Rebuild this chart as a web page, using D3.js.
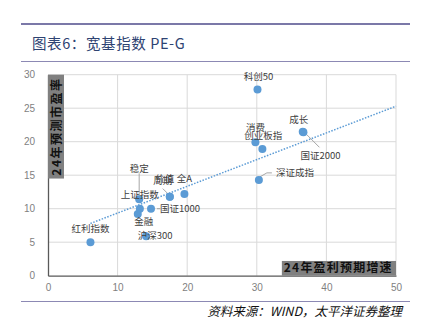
<!DOCTYPE html>
<html>
<head>
<meta charset="utf-8">
<script src="https://cdn.jsdelivr.net/npm/d3@7"></script>
<style>
  html, body { margin: 0; padding: 0; background: #fff; }
  svg { display: block; }
</style>
</head>
<body>
<svg id="chart" width="424" height="324"></svg>
<script>
// Broad-market indices: 2024 expected earnings growth (x) vs 2024 forecast P/E (y)
const names   = ["红利指数", "沪深300", "金融", "上证指数", "稳定", "国证1000", "周期", "价值", "全A",
                 "科创50", "消费", "创业板指", "成长", "国证2000", "深证成指"];
const growth  = [6.1, 14.1, 12.9, 13.2, 13.1, 14.8, 17.5, 17.5, 19.6, 30.1, 29.8, 30.8, 36.6, 36.7, 30.3];
const pe      = [5.0, 5.9, 9.2, 10.0, 11.4, 10.0, 11.8, 11.8, 12.2, 27.8, 19.9, 18.9, 21.5, 21.4, 14.3];

// Linear trend line, drawn between its two end points
const trendX = [6.1, 50];
const trendY = [7.8, 25.3];

const xTicks = [0, 10, 20, 30, 40, 50];
const yTicks = [0, 5, 10, 15, 20, 25, 30];

// Label placement relative to each point (px), and optional leader lines
const labelPos = [
  [0, -14], [9, 0], [6, 8], [0, -14], [0, -31], [29, 0], [-7, -16], [-5, -18], [0, -15],
  [1, -13], [0, -15], [1, -13], [-4, -12], [17, 23], [36, -7]
];
const leaders = {
  "稳定":     [[0, -3], [0, -26]],
  "周期":     [[-1, -2], [-7, -8]],
  "国证1000": [[6, 0], [9, 0]],
  "国证2000": [[3, 2], [16, 15]],
  "深证成指": [[1, -3], [8, -7], [13, -7]]
};

const svg = d3.select("#chart");
const FONT = "'Noto Sans CJK SC', 'Noto Sans', sans-serif";

// Header rules and title
svg.append("line").attr("x1", 21).attr("x2", 410).attr("y1", 24).attr("y2", 24)
  .attr("stroke", "#7b78a8").attr("stroke-width", 2);
svg.append("line").attr("x1", 21).attr("x2", 410).attr("y1", 61.5).attr("y2", 61.5)
  .attr("stroke", "#8c89b4").attr("stroke-width", 1);
svg.append("text").attr("x", 32).attr("y", 48.5)
  .attr("font-family", FONT).attr("font-size", 14.5).attr("fill", "#2e4372")
  .attr("letter-spacing", 0.6)
  .text("图表6：宽基指数 PE-G");

// Footer rule and source note
svg.append("line").attr("x1", 21).attr("x2", 410).attr("y1", 301.5).attr("y2", 301.5)
  .attr("stroke", "#8c89b4").attr("stroke-width", 1);
svg.append("text").attr("x", 402).attr("y", 316).attr("text-anchor", "end")
  .attr("font-family", FONT).attr("font-size", 12.5).attr("font-style", "italic")
  .attr("fill", "#111")
  .text("资料来源：WIND，太平洋证券整理");

// Scales
const x = d3.scaleLinear().domain([0, 50]).range([48, 396]);
const y = d3.scaleLinear().domain([0, 30]).range([275.7, 74.7]);

// Grid
const grid = svg.append("g");
grid.selectAll(".gx").data(xTicks.slice(1)).join("line")
  .attr("x1", d => x(d)).attr("x2", d => x(d)).attr("y1", y(0)).attr("y2", y(30))
  .attr("stroke", "#d9d9d9").attr("stroke-width", 1);
grid.selectAll(".gy").data(yTicks.slice(1)).join("line")
  .attr("x1", x(0)).attr("x2", x(50)).attr("y1", d => y(d)).attr("y2", d => y(d))
  .attr("stroke", "#d9d9d9").attr("stroke-width", 1);

// Axes
const xAxis = svg.append("g").attr("transform", `translate(0,${y(0)})`)
  .call(d3.axisBottom(x).tickValues(xTicks).tickSize(0).tickPadding(8));
const yAxis = svg.append("g").attr("transform", `translate(${x(0)},0)`)
  .call(d3.axisLeft(y).tickValues(yTicks).tickSize(0).tickPadding(13));
[xAxis, yAxis].forEach(a => {
  a.select(".domain").attr("stroke", "#595959").attr("stroke-width", 1.3);
  a.selectAll("text").attr("font-family", "'Liberation Sans', Arial, sans-serif")
    .attr("font-size", 10).attr("fill", "#7f7f7f");
});

// Axis title boxes
const yTitleBox = { top: y(30), bottom: y(14.5) };
svg.append("rect").attr("x", x(0)).attr("y", yTitleBox.top)
  .attr("width", 16).attr("height", yTitleBox.bottom - yTitleBox.top).attr("fill", "#808080");
svg.append("text")
  .attr("transform", `translate(${x(0) + 12.5},${(yTitleBox.top + yTitleBox.bottom) / 2}) rotate(-90)`)
  .attr("text-anchor", "middle").attr("font-family", FONT).attr("font-size", 12)
  .attr("font-weight", "bold").attr("fill", "#111").attr("letter-spacing", 1.5)
  .text("24年预测市盈率");

svg.append("rect").attr("x", x(33.6)).attr("y", y(2.2))
  .attr("width", x(50) - x(33.6)).attr("height", y(0) - y(2.2)).attr("fill", "#808080");
svg.append("text").attr("x", x(33.6) + 2).attr("y", y(0) - 3.5)
  .attr("font-family", FONT).attr("font-size", 12).attr("font-weight", "bold")
  .attr("fill", "#111").attr("letter-spacing", 1.2)
  .text("24年盈利预期增速");

// Trend line
svg.append("line")
  .attr("x1", x(trendX[0])).attr("y1", y(trendY[0]))
  .attr("x2", x(trendX[1])).attr("y2", y(trendY[1]))
  .attr("stroke", "#5b9bd5").attr("stroke-width", 1.5).attr("stroke-dasharray", "1.5,1.5");

const pts = names.map((n, i) => ({ name: n, gx: growth[i], py: pe[i], off: labelPos[i] }));

// Leader lines
svg.append("g").selectAll("polyline").data(pts.filter(d => leaders[d.name])).join("polyline")
  .attr("points", d => leaders[d.name].map(p => [x(d.gx) + p[0], y(d.py) + p[1]].join(",")).join(" "))
  .attr("fill", "none").attr("stroke", "#a6a6a6").attr("stroke-width", 1);

// Points
svg.append("g").selectAll("circle").data(pts).join("circle")
  .attr("cx", d => x(d.gx)).attr("cy", d => y(d.py)).attr("r", 4)
  .attr("fill", "#5b9bd5");

// Point labels
svg.append("g").selectAll("text").data(pts).join("text")
  .attr("x", d => x(d.gx) + d.off[0]).attr("y", d => y(d.py) + d.off[1])
  .attr("dy", "0.35em").attr("text-anchor", "middle")
  .attr("font-family", FONT).attr("font-size", 9.5).attr("fill", "#404040")
  .text(d => d.name);
</script>
</body>
</html>
